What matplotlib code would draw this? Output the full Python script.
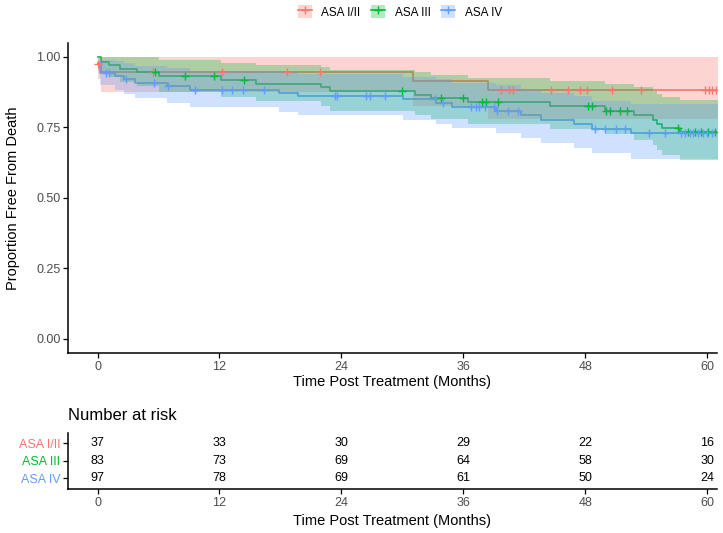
import numpy as np
import matplotlib
matplotlib.use('Agg')
import matplotlib.pyplot as plt
from matplotlib.patches import Patch
from matplotlib.lines import Line2D
from matplotlib.legend_handler import HandlerTuple

plt.rcParams['font.family'] = ['Liberation Sans', 'DejaVu Sans']

groups = ['ASA I/II', 'ASA III', 'ASA IV']
colors = ['#F8766D', '#00BA38', '#619CFF']
followup_end = 61.5

# Kaplan-Meier steps (months, proportion)
red_time = [0, 0.3, 31.0, 38.4]
red_surv = [0.973, 0.946, 0.914, 0.882]
red_lower = [0.922, 0.876, 0.826, 0.779]
red_upper = [1.0, 1.0, 1.0, 0.998]
red_censor = [0.05, 5.5, 12.2, 18.6, 21.9, 39.7, 40.5, 40.9, 44.6, 46.3, 47.5,
              48.2, 50.6, 53.5, 59.8, 60.2, 60.5, 60.8]

green_time = [0, 0.3, 1.1, 2.2, 3.9, 6.0, 12.1, 15.6, 22.0, 22.9, 31.2, 32.8,
              36.4, 44.5, 49.9, 52.8, 54.6, 55.0, 55.5, 57.3]
green_surv = [1.0, 0.980, 0.969, 0.957, 0.945, 0.930, 0.917, 0.905, 0.892, 0.878,
              0.866, 0.853, 0.839, 0.825, 0.809, 0.793, 0.777, 0.762, 0.747, 0.733]
green_lower = [1.0, 0.947, 0.929, 0.912, 0.895, 0.876, 0.858, 0.843, 0.826, 0.809,
               0.794, 0.778, 0.761, 0.744, 0.725, 0.706, 0.686, 0.668, 0.651, 0.634]
green_upper = [1.0, 1.0, 1.0, 1.0, 0.998, 0.988, 0.979, 0.972, 0.963, 0.953,
               0.945, 0.935, 0.925, 0.915, 0.903, 0.891, 0.880, 0.869, 0.858, 0.848]
green_censor = [5.7, 8.6, 11.5, 14.4, 30.0, 33.8, 36.0, 37.8, 38.2, 39.4, 48.3,
                48.6, 50.0, 50.4, 51.4, 52.1, 57.1, 58.1, 58.8, 59.4, 60.1, 60.7]

blue_time = [0, 0.2, 1.7, 2.6, 3.7, 6.8, 9.1, 17.9, 19.7, 30.1, 33.3, 34.9,
             39.2, 41.7, 43.6, 46.9, 48.6, 52.5]
blue_surv = [0.979, 0.943, 0.931, 0.920, 0.908, 0.896, 0.883, 0.873, 0.862, 0.849,
             0.837, 0.823, 0.809, 0.792, 0.777, 0.762, 0.745, 0.729]
blue_lower = [0.951, 0.898, 0.881, 0.867, 0.853, 0.835, 0.823, 0.805, 0.793, 0.776,
              0.762, 0.746, 0.729, 0.711, 0.693, 0.675, 0.658, 0.637]
blue_upper = [1.0, 0.990, 0.983, 0.977, 0.967, 0.961, 0.950, 0.947, 0.937, 0.929,
              0.920, 0.908, 0.898, 0.882, 0.871, 0.860, 0.844, 0.834]
blue_censor = [0.8, 1.1, 2.8, 5.6, 6.9, 9.6, 12.2, 13.2, 14.3, 16.4, 23.4, 23.6,
               26.4, 26.8, 28.3, 33.2, 34.0, 36.7, 37.2, 37.5, 38.1, 39.0, 39.3,
               40.4, 41.4, 48.9, 49.9, 51.0, 51.9, 54.3, 55.8, 57.4, 57.8, 58.3,
               58.6, 59.1, 59.6, 60.0, 60.5]

# number at risk table
risk_times = [0, 12, 24, 36, 48, 60]
risk_red = [37, 33, 30, 29, 22, 16]
risk_green = [83, 73, 69, 64, 58, 30]
risk_blue = [97, 78, 69, 61, 50, 24]

times = [red_time, green_time, blue_time]
survs = [red_surv, green_surv, blue_surv]
lowers = [red_lower, green_lower, blue_lower]
uppers = [red_upper, green_upper, blue_upper]
censors = [red_censor, green_censor, blue_censor]
risks = [risk_red, risk_green, risk_blue]


def extend(t, v):
    return np.append(t, followup_end), np.append(v, v[-1])


fig = plt.figure(figsize=(7.23, 5.33), dpi=100)
ax = fig.add_axes([0.0941, 0.3377, 0.897, 0.5824])
tab = fig.add_axes([0.0941, 0.0826, 0.897, 0.1056])

# lines first, ribbons on top (as survminer does), then censor marks
for i in range(3):
    t, s = extend(times[i], survs[i])
    ax.step(t, s, where='post', color=colors[i], lw=1.2, zorder=2)
for i in range(3):
    t, lo = extend(times[i], lowers[i])
    t, up = extend(times[i], uppers[i])
    ax.fill_between(t, lo, up, step='post', color=colors[i], alpha=0.3, lw=0, zorder=3)
for i in range(3):
    idx = np.searchsorted(times[i], censors[i], side='right') - 1
    ax.plot(censors[i], np.array(survs[i])[idx], '+', color=colors[i], ms=6, mew=1.0,
            zorder=4)

xticks = [0, 12, 24, 36, 48, 60]
for a in [ax, tab]:
    a.set_xlim(-2.9, 60.9)
    a.set_xticks(xticks)
    a.spines['top'].set_visible(False)
    a.spines['right'].set_visible(False)
    a.spines['left'].set_linewidth(1.1)
    a.spines['bottom'].set_linewidth(1.1)
    a.tick_params(length=3.5, width=0.9, color='black', labelcolor='#4D4D4D',
                  labelsize=9, pad=2)
    a.set_xlabel('Time Post Treatment (Months)', fontsize=10.5)

ax.set_ylim(-0.05, 1.05)
ax.set_yticks([0, 0.25, 0.5, 0.75, 1.0])
ax.set_yticklabels(['%.2f' % v for v in [0, 0.25, 0.5, 0.75, 1.0]])
ax.set_ylabel('Proportion Free From Death', fontsize=10.5)
ax.xaxis.set_label_coords(0.5, -0.072)
ax.yaxis.set_label_coords(-0.074, 0.5)

# risk table
tab.set_ylim(0.4, 3.6)
tab.set_yticks([3, 2, 1])
tab.set_yticklabels(groups)
for lab, c in zip(tab.get_yticklabels(), colors):
    lab.set_color(c)
for i in range(3):
    row = 3 - i
    for t, n in zip(risk_times, risks[i]):
        tab.text(t, row, str(n), ha='center', va='center', fontsize=9, color='black')
tab.xaxis.set_label_coords(0.5, -0.44)
fig.text(0.0941, 1 - 416 / 533, 'Number at risk', fontsize=12, ha='left', va='center')

# legend keys: translucent box with the line and a + drawn over it
handles = [(Patch(facecolor=c, alpha=0.3, edgecolor='none'),
            Line2D([0], [0], color=c, marker='+', lw=1.2, ms=6)) for c in colors]
fig.legend(handles, groups, loc='center', bbox_to_anchor=(400 / 723, 1 - 12 / 533),
           ncol=3, frameon=False, fontsize=8.5, handler_map={tuple: HandlerTuple(ndivide=1)},
           handlelength=1.2, handleheight=1.2, columnspacing=0.9, handletextpad=0.8)

fig.savefig('out.png', dpi=100)
